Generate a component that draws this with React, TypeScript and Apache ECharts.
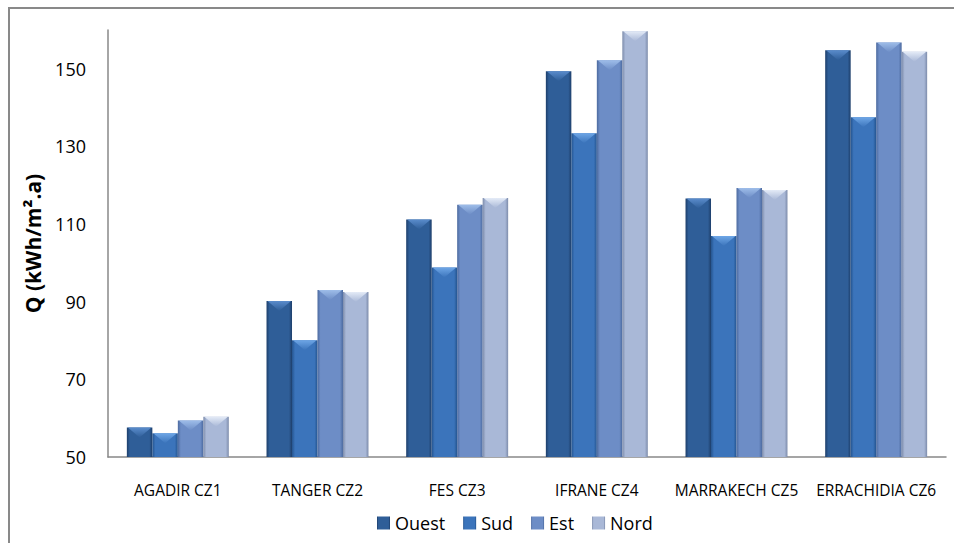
import React, { useEffect, useRef } from "react";
import * as echarts from "echarts";

const categories = ["AGADIR CZ1", "TANGER CZ2", "FES CZ3", "IFRANE CZ4", "MARRAKECH CZ5", "ERRACHIDIA CZ6"];
const seriesNames = ["Ouest", "Sud", "Est", "Nord"];
const ouest = [57.6, 90.2, 111.2, 149.4, 116.6, 154.8];
const sud = [56.1, 80.1, 98.8, 133.4, 106.9, 137.5];
const est = [59.4, 93.0, 115.0, 152.2, 119.3, 156.8];
const nord = [60.4, 92.5, 116.7, 159.7, 118.8, 154.4];
const yTicks = { min: 50, max: 160, interval: 20 };

const palette = [
  { base: "#2f5e98", edge: "#1d3e6a", light: "#5a8ccc" },
  { base: "#3b74bb", edge: "#24548f", light: "#6ea6e6" },
  { base: "#6d8dc6", edge: "#4c6a9f", light: "#9ebde9" },
  { base: "#a9b8d7", edge: "#7d8cab", light: "#e4ebf7" },
];

const FONT = "'Open Sans', 'Noto Sans', sans-serif";
const CATEGORY_GAP = 0.27;

export default function App() {
  const ref = useRef<HTMLDivElement>(null);
  useEffect(() => {
    if (!ref.current) return;
    const chart = echarts.init(ref.current, undefined, { renderer: "svg" });
    const data = [ouest, sud, est, nord];
    const series: any[] = data.map((vals, i) => ({
      name: seriesNames[i],
      type: "bar",
      data: vals,
      barGap: "0%",
      barCategoryGap: CATEGORY_GAP * 100 + "%",
      itemStyle: {
        color: new echarts.graphic.LinearGradient(0, 0, 1, 0, [
          { offset: 0, color: palette[i].edge },
          { offset: 0.12, color: palette[i].base },
          { offset: 0.5, color: palette[i].base },
          { offset: 0.88, color: palette[i].base },
          { offset: 1, color: palette[i].edge },
        ]),
      },
    }));
    const bevelData: number[][] = [];
    data.forEach((vals, s) => vals.forEach((v, c) => bevelData.push([c, v, s])));
    series.push({
      type: "custom",
      silent: true,
      z: 3,
      data: bevelData,
      encode: { x: 0, y: 1 },
      renderItem: (params: any, api: any) => {
        const c = api.value(0);
        const v = api.value(1);
        const s = api.value(2);
        const pt = api.coord([c, v]);
        const band = api.size([1, 0])[0];
        const groupW = band * (1 - CATEGORY_GAP);
        const barW = groupW / data.length;
        const left = pt[0] - groupW / 2 + s * barW;
        const top = pt[1];
        const h = Math.min(10, barW * 0.4);
        return {
          type: "polygon",
          shape: {
            points: [
              [left + 1, top],
              [left + barW - 1, top],
              [left + barW / 2, top + h],
            ],
          },
          style: {
            fill: new echarts.graphic.LinearGradient(0, 0, 0, 1, [
              { offset: 0, color: palette[s].light },
              { offset: 1, color: palette[s].base },
            ]),
          },
        };
      },
    });
    chart.setOption({
      animation: false,
      backgroundColor: "#ffffff",
      textStyle: { fontFamily: FONT },
      graphic: [
        {
          type: "rect",
          shape: { x: 9, y: 8, width: 1000, height: 600 },
          style: { fill: "none", stroke: "#898989", lineWidth: 2 },
          silent: true,
        },
      ],
      grid: { left: 108, right: 8, top: 30, bottom: 86, containLabel: false },
      legend: {
        bottom: 6,
        left: 372,
        itemWidth: 13,
        itemHeight: 13,
        itemGap: 18,
        icon: "rect",
        textStyle: { fontFamily: FONT, fontSize: 18, color: "#000" },
        data: seriesNames,
      },
      xAxis: {
        type: "category",
        data: categories,
        axisLine: { lineStyle: { color: "#888888", width: 1.5 } },
        axisTick: { show: false },
        axisLabel: { color: "#000", fontSize: 15.5, margin: 25, interval: 0, fontFamily: FONT },
      },
      yAxis: {
        type: "value",
        min: yTicks.min,
        max: yTicks.max,
        interval: yTicks.interval,
        name: "Q (kWh/m².a)",
        nameLocation: "middle",
        nameGap: 65,
        nameTextStyle: { fontSize: 21, fontWeight: "bold", color: "#000", fontFamily: FONT },
        axisLine: { show: true, lineStyle: { color: "#888888", width: 1.5 } },
        axisTick: { show: false },
        splitLine: { show: false },
        axisLabel: { color: "#000", fontSize: 18, margin: 22, showMaxLabel: false, fontFamily: FONT },
      },
      series,
    });
    return () => chart.dispose();
  }, []);
  return (
    <div
      ref={ref}
      style={{ position: "fixed", left: 0, top: 0, width: 954, height: 543, background: "#fff" }}
    />
  );
}
